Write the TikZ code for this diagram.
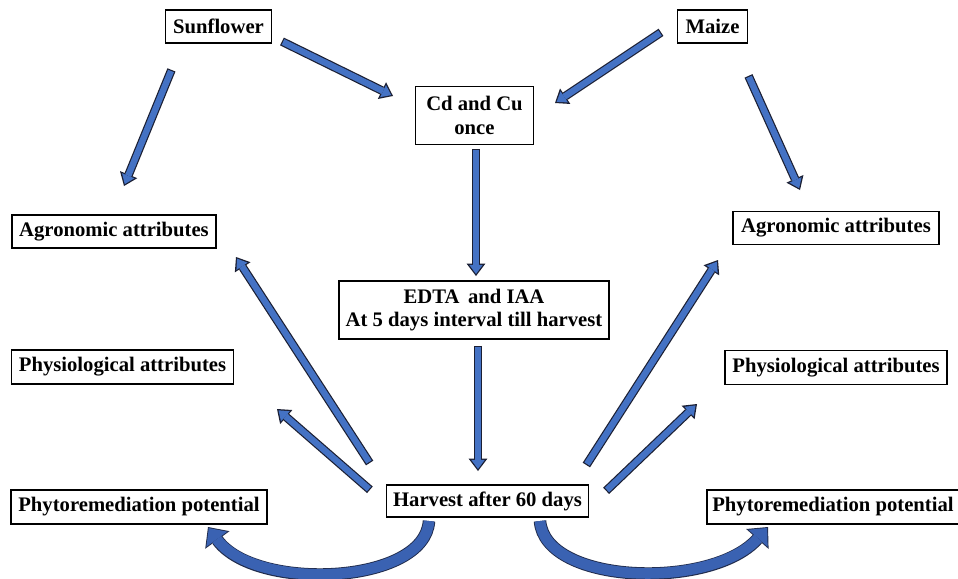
\documentclass[tikz,border=0pt]{standalone}
\usepackage{fontspec}
\setmainfont{Liberation Serif}
\usetikzlibrary{arrows.meta}
\definecolor{arrowblue}{HTML}{4472C4}
\definecolor{arrowedge}{HTML}{1B1F33}
\definecolor{curveblue}{HTML}{3A62B2}

\begin{document}
\begin{tikzpicture}[x=0.75pt,y=-0.75pt,
  box/.style={draw, line width=0.9pt, fill=white, inner xsep=4pt, inner ysep=2pt, align=center,
    minimum height=24.75pt, font=\fontsize{15.5}{17.5}\selectfont\bfseries},
  blockarrow/.style={draw=arrowblue, line width=4.7pt, shorten >=1.5pt,
    -{Triangle[length=6.8pt,width=10pt,line width=0pt]},
    preaction={draw=arrowedge, line width=6.5pt, shorten >=0pt, shorten <=-0.9pt,
      -{Triangle[length=9.2pt,width=14pt,line width=0pt]}}},
  curvearrow/.style={draw=curveblue, line width=8pt, shorten >=1pt,
    -{Triangle[length=10.3pt,width=19.3pt,line width=0pt]},
    preaction={draw=arrowedge!80!curveblue, line width=9.4pt, shorten >=0pt,
      -{Triangle[length=12pt,width=22.5pt,line width=0pt]}}}]
\useasboundingbox (0,0) rectangle (958,579);

\node[box, minimum width=80pt] (sun) at (218.5,26.5) {Sunflower};
\node[box, minimum width=53pt] (maize) at (712.5,26.5) {Maize};
\node[box, minimum width=89pt, minimum height=43pt] (metal) at (474.5,115.5) {Cd and Cu\\once};
\node[box, minimum width=153pt] (agroL) at (114,231.5) {Agronomic attributes};
\node[box, minimum width=154.5pt] (agroR) at (836,228) {Agronomic attributes};
\node[box, minimum width=202.5pt, minimum height=43.5pt] (edta) at (474,310) {EDTA\, and IAA\\At 5 days interval till harvest};
\node[box, minimum width=166pt, minimum height=25.5pt] (physL) at (122.5,367) {Physiological attributes};
\node[box, minimum width=166.5pt, minimum height=25.5pt] (physR) at (836,367.5) {Physiological attributes};
\node[box, minimum width=152pt, minimum height=24pt] (harvest) at (487.5,501) {Harvest after 60 days};
\node[box, minimum width=192pt, minimum height=25.5pt] (phytoL) at (139,507) {Phytoremediation potential};
\node[box, minimum width=186pt, minimum height=25.5pt] (phytoR) at (833,507) {Phytoremediation potential};

\coordinate (t1) at (283,42);  \coordinate (h1) at (393,96);
\coordinate (t2) at (171,71);  \coordinate (h2) at (124,186);
\coordinate (t3) at (660,33);  \coordinate (h3) at (555,103);
\coordinate (t4) at (749,77);  \coordinate (h4) at (800,190);
\coordinate (t5) at (476,150); \coordinate (h5) at (476,276);
\coordinate (t6) at (478,347); \coordinate (h6) at (478,471);
\coordinate (t7) at (369,462); \coordinate (h7) at (236,257);
\coordinate (t8) at (369,489); \coordinate (h8) at (277,409);
\coordinate (t9) at (587,464); \coordinate (h9) at (718,260);
\coordinate (t10) at (607,490); \coordinate (h10) at (697,404);
\coordinate (t11) at (429,521); \coordinate (h11) at (208,527);
\coordinate (t12) at (540,521); \coordinate (h12) at (768,527);

\draw[blockarrow] (t1) -- (h1);
\draw[blockarrow] (t2) -- (h2);
\draw[blockarrow] (t3) -- (h3);
\draw[blockarrow] (t4) -- (h4);
\draw[blockarrow] (t5) -- (h5);
\draw[blockarrow] (t6) -- (h6);
\draw[blockarrow] (t7) -- (h7);
\draw[blockarrow] (t8) -- (h8);
\draw[blockarrow] (t9) -- (h9);
\draw[blockarrow] (t10) -- (h10);
\draw[curvearrow] (t11) .. controls (425,585) and (255,592) .. (h11);
\draw[curvearrow] (t12) .. controls (545,585) and (712,590) .. (h12);
\end{tikzpicture}
\end{document}
